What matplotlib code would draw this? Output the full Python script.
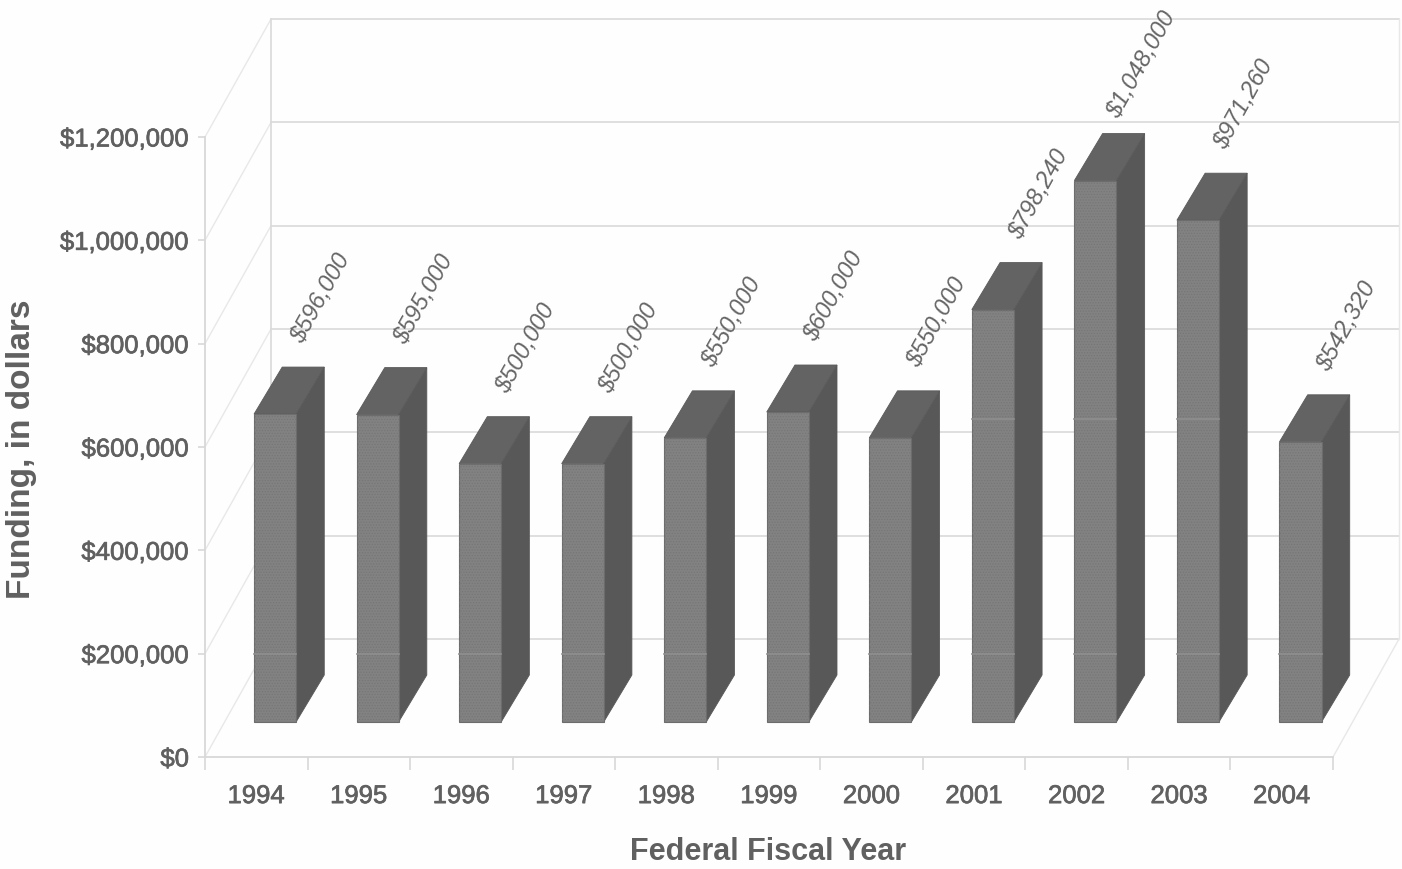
import matplotlib
matplotlib.use('Agg')
import matplotlib.pyplot as plt
import matplotlib.patheffects as pe
from matplotlib.patches import Polygon

plt.rcParams['font.family'] = ['Liberation Sans', 'DejaVu Sans']
plt.rcParams['hatch.linewidth'] = 0.6

years = ['1994', '1995', '1996', '1997', '1998', '1999', '2000', '2001', '2002', '2003', '2004']
funding = [596000, 595000, 500000, 500000, 550000, 600000, 550000, 798240, 1048000, 971260, 542320]
funding_labels = ['$596,000', '$595,000', '$500,000', '$500,000', '$550,000', '$600,000',
                  '$550,000', '$798,240', '$1,048,000', '$971,260', '$542,320']
y_ticks = [0, 200000, 400000, 600000, 800000, 1000000, 1200000]
y_tick_labels = ['$0', '$200,000', '$400,000', '$600,000', '$800,000', '$1,000,000', '$1,200,000']
bar_streaks = [200000, 654000]

W, H = 1402, 870
TEXT = '#606060'
GRID = '#d8d8d8'
FAINT = '#e8e8e8'
YMAX = 1200000

# oblique projection, offsets in data units
WALL_DX, WALL_DY = 0.644, 228400
FRONT_DX, FRONT_DY = 0.183, 67700
BAR_DX, BAR_DY = 0.275, 91000
BAR_W = 0.41

# slightly heavier glyphs for the axis labels
heavy = [pe.withStroke(linewidth=0.5, foreground=TEXT)]

fig = plt.figure(figsize=(W / 100, H / 100), dpi=100, facecolor='#fefefe')
ax = fig.add_axes([205 / W, (H - 758) / H, 1128 / W, 620 / H])
ax.set_xlim(0, len(years))
ax.set_ylim(0, YMAX)
ax.patch.set_visible(False)


def wall(x, y):
    return x + WALL_DX, y + WALL_DY


# floor outline and the back wall with its grid
n = len(years)
for v in y_ticks:
    bx0, by0 = wall(0, v)
    bx1, by1 = wall(n, v)
    ax.plot([bx0, bx1], [by0, by1], color=GRID, lw=1.15, clip_on=False, zorder=1)
    ax.plot([0, bx0], [v, by0], color=FAINT, lw=1.0, clip_on=False, zorder=1)
ax.plot([wall(0, 0)[0]] * 2, [wall(0, 0)[1], wall(0, YMAX)[1]], color=GRID, lw=1.15, clip_on=False, zorder=1)
ax.plot([wall(n, 0)[0]] * 2, [wall(n, 0)[1], wall(n, YMAX)[1]], color=FAINT, lw=1.0, clip_on=False, zorder=1)
ax.plot([n, wall(n, 0)[0]], [0, wall(n, 0)[1]], color=FAINT, lw=1.0, clip_on=False, zorder=1)

# 3d bars: side, top, then front face
for i, v in enumerate(funding):
    x0 = i + 0.5 + FRONT_DX - BAR_W / 2
    x1 = x0 + BAR_W
    y0 = FRONT_DY
    y1 = FRONT_DY + v
    side = [(x1, y0), (x1 + BAR_DX, y0 + BAR_DY), (x1 + BAR_DX, y1 + BAR_DY), (x1, y1)]
    top = [(x0, y1), (x1, y1), (x1 + BAR_DX, y1 + BAR_DY), (x0 + BAR_DX, y1 + BAR_DY)]
    front = [(x0, y0), (x1, y0), (x1, y1), (x0, y1)]
    ax.add_patch(Polygon(side, closed=True, fc='#585858', ec='#585858', lw=0.6, zorder=3, clip_on=False))
    ax.add_patch(Polygon(top, closed=True, fc='#636363', ec='#5a5a5a', lw=0.6, zorder=3, clip_on=False))
    ax.add_patch(Polygon(front, closed=True, fc='#828282', ec='#6c6c6c', lw=0.8, zorder=4, clip_on=False))
    ax.add_patch(Polygon(front, closed=True, fc='none', ec='#767676', lw=0, hatch='......', zorder=4, clip_on=False))
    # pale streaks across the front face
    for s in bar_streaks:
        if s + 30000 < y1:
            ax.plot([x0, x1], [s, s], color='#8f8f8f', lw=1.2, zorder=5, clip_on=False)
    ax.annotate(funding_labels[i], xy=(x0 + BAR_DX, y1 + BAR_DY), xytext=(28, 50),
                textcoords='offset points', rotation=61, rotation_mode='anchor',
                ha='center', va='center', fontsize=17, style='italic', color='#666666',
                annotation_clip=False, zorder=6)

for s in ['top', 'right']:
    ax.spines[s].set_visible(False)
for s in ['left', 'bottom']:
    ax.spines[s].set_color(GRID)
    ax.spines[s].set_linewidth(1.3)

ax.set_xticks(range(n + 1))
ax.set_xticklabels([])
ax.set_xticks([i + 0.5 for i in range(n)], labels=years, minor=True)
ax.tick_params(axis='x', which='major', length=9, color=GRID, width=1.2)
ax.tick_params(axis='x', which='minor', length=0, pad=19.5, labelsize=18.5, labelcolor=TEXT)
ax.set_yticks(y_ticks, labels=y_tick_labels)
ax.tick_params(axis='y', length=5, color=GRID, width=1.2, pad=6.5, labelsize=18.5, labelcolor=TEXT)
for t in ax.get_xticklabels(minor=True) + ax.get_yticklabels():
    t.set_path_effects(heavy)

fig.text(768 / W, 1 - 852 / H, 'Federal Fiscal Year', ha='center', va='center',
         fontsize=22, fontweight='bold', color=TEXT)
fig.text(22 / W, 1 - 449 / H, 'Funding, in dollars', ha='center', va='center', rotation=90,
         fontsize=24, fontweight='bold', color=TEXT)

fig.savefig('out.png', dpi=100, facecolor=fig.get_facecolor())
